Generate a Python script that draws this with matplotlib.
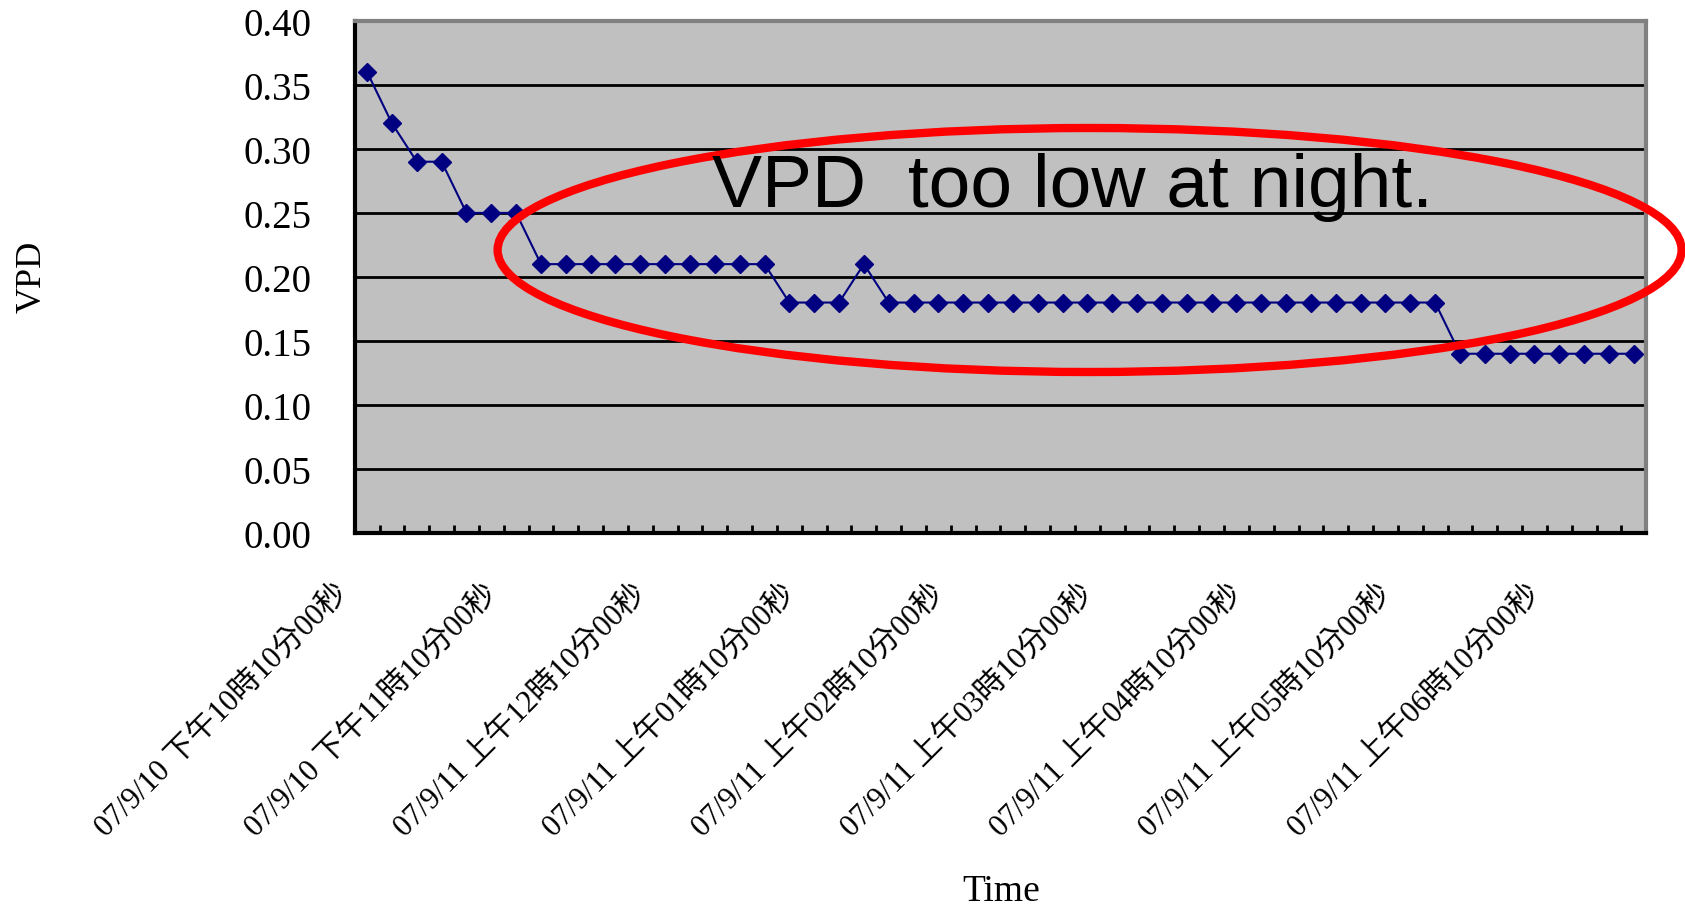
import matplotlib.pyplot as plt
import matplotlib.transforms as mtransforms
from matplotlib.patches import Ellipse

# VPD readings every 10 minutes, 07/9/10 22:10 -> 07/9/11 06:50
vpd = [0.36, 0.32, 0.29, 0.29, 0.25, 0.25, 0.25,
       0.21, 0.21, 0.21, 0.21, 0.21, 0.21, 0.21, 0.21, 0.21, 0.21,
       0.18, 0.18, 0.18, 0.21,
       0.18, 0.18, 0.18, 0.18, 0.18, 0.18, 0.18, 0.18, 0.18, 0.18, 0.18, 0.18,
       0.18, 0.18, 0.18, 0.18, 0.18, 0.18, 0.18, 0.18, 0.18, 0.18, 0.18,
       0.14, 0.14, 0.14, 0.14, 0.14, 0.14, 0.14, 0.14]
label_pos = [0, 6, 12, 18, 24, 30, 36, 42, 48]
time_labels = ["07/9/10 下午10時10分00秒", "07/9/10 下午11時10分00秒",
               "07/9/11 上午12時10分00秒", "07/9/11 上午01時10分00秒",
               "07/9/11 上午02時10分00秒", "07/9/11 上午03時10分00秒",
               "07/9/11 上午04時10分00秒", "07/9/11 上午05時10分00秒",
               "07/9/11 上午06時10分00秒"]
yticks = [0.00, 0.05, 0.10, 0.15, 0.20, 0.25, 0.30, 0.35, 0.40]

serif = ['Liberation Serif', 'Noto Sans CJK TC']

fig = plt.figure(figsize=(16.85, 9.12), dpi=100)
ax = fig.add_axes([0.2105, 0.4145, 0.7665, 0.5615])
ax.set_facecolor('#c0c0c0')

x = list(range(len(vpd)))
ax.plot(x, vpd, color='#000080', lw=1.5, marker='D', markersize=9, zorder=3)

ax.set_xlim(-0.5, len(vpd) - 0.5)
ax.set_ylim(0, 0.40)
ax.set_yticks(yticks)
ax.set_yticklabels([f'{v:.2f}' for v in yticks], family=serif, fontsize=28)
ax.yaxis.grid(True, color='black', lw=2)
ax.set_axisbelow(True)
ax.tick_params(axis='y', length=0, pad=31)

ax.set_xticks(label_pos)
ax.set_xticklabels(time_labels, rotation=45, ha='right', va='top',
                   family=serif, fontsize=22)
ax.set_xticks([i - 0.5 for i in range(len(vpd) + 1)], minor=True)
ax.tick_params(axis='x', which='major', length=0, pad=33)
ax.tick_params(axis='x', which='minor', direction='in', length=6, width=2)
# labels sit a bit left of their category, like the original
offset = mtransforms.ScaledTranslation(-0.12, 0, fig.dpi_scale_trans)
for lab in ax.get_xticklabels():
    lab.set_transform(lab.get_transform() + offset)

for s in ['left', 'bottom']:
    ax.spines[s].set_color('black')
    ax.spines[s].set_linewidth(3)
for s in ['top', 'right']:
    ax.spines[s].set_color('#808080')
    ax.spines[s].set_linewidth(3)

fig.text(0.019, 0.697, 'VPD', rotation=90, ha='center', va='center',
         family=serif, fontsize=26)
fig.text(0.594, 0.022, 'Time', ha='center', va='center',
         family=serif, fontsize=27)

# annotation
ell = Ellipse((1089.6 / 1685, 1 - 251 / 912), 1184 / 1685, 244 / 912,
              transform=fig.transFigure, fill=False, edgecolor='red', lw=6,
              zorder=5)
fig.add_artist(ell)
fig.text(1072 / 1685, 1 - 187 / 912, 'VPD  too low at night.',
         ha='center', va='center', family='Liberation Sans', fontsize=54,
         zorder=6)

fig.savefig('out.png', dpi=100)
